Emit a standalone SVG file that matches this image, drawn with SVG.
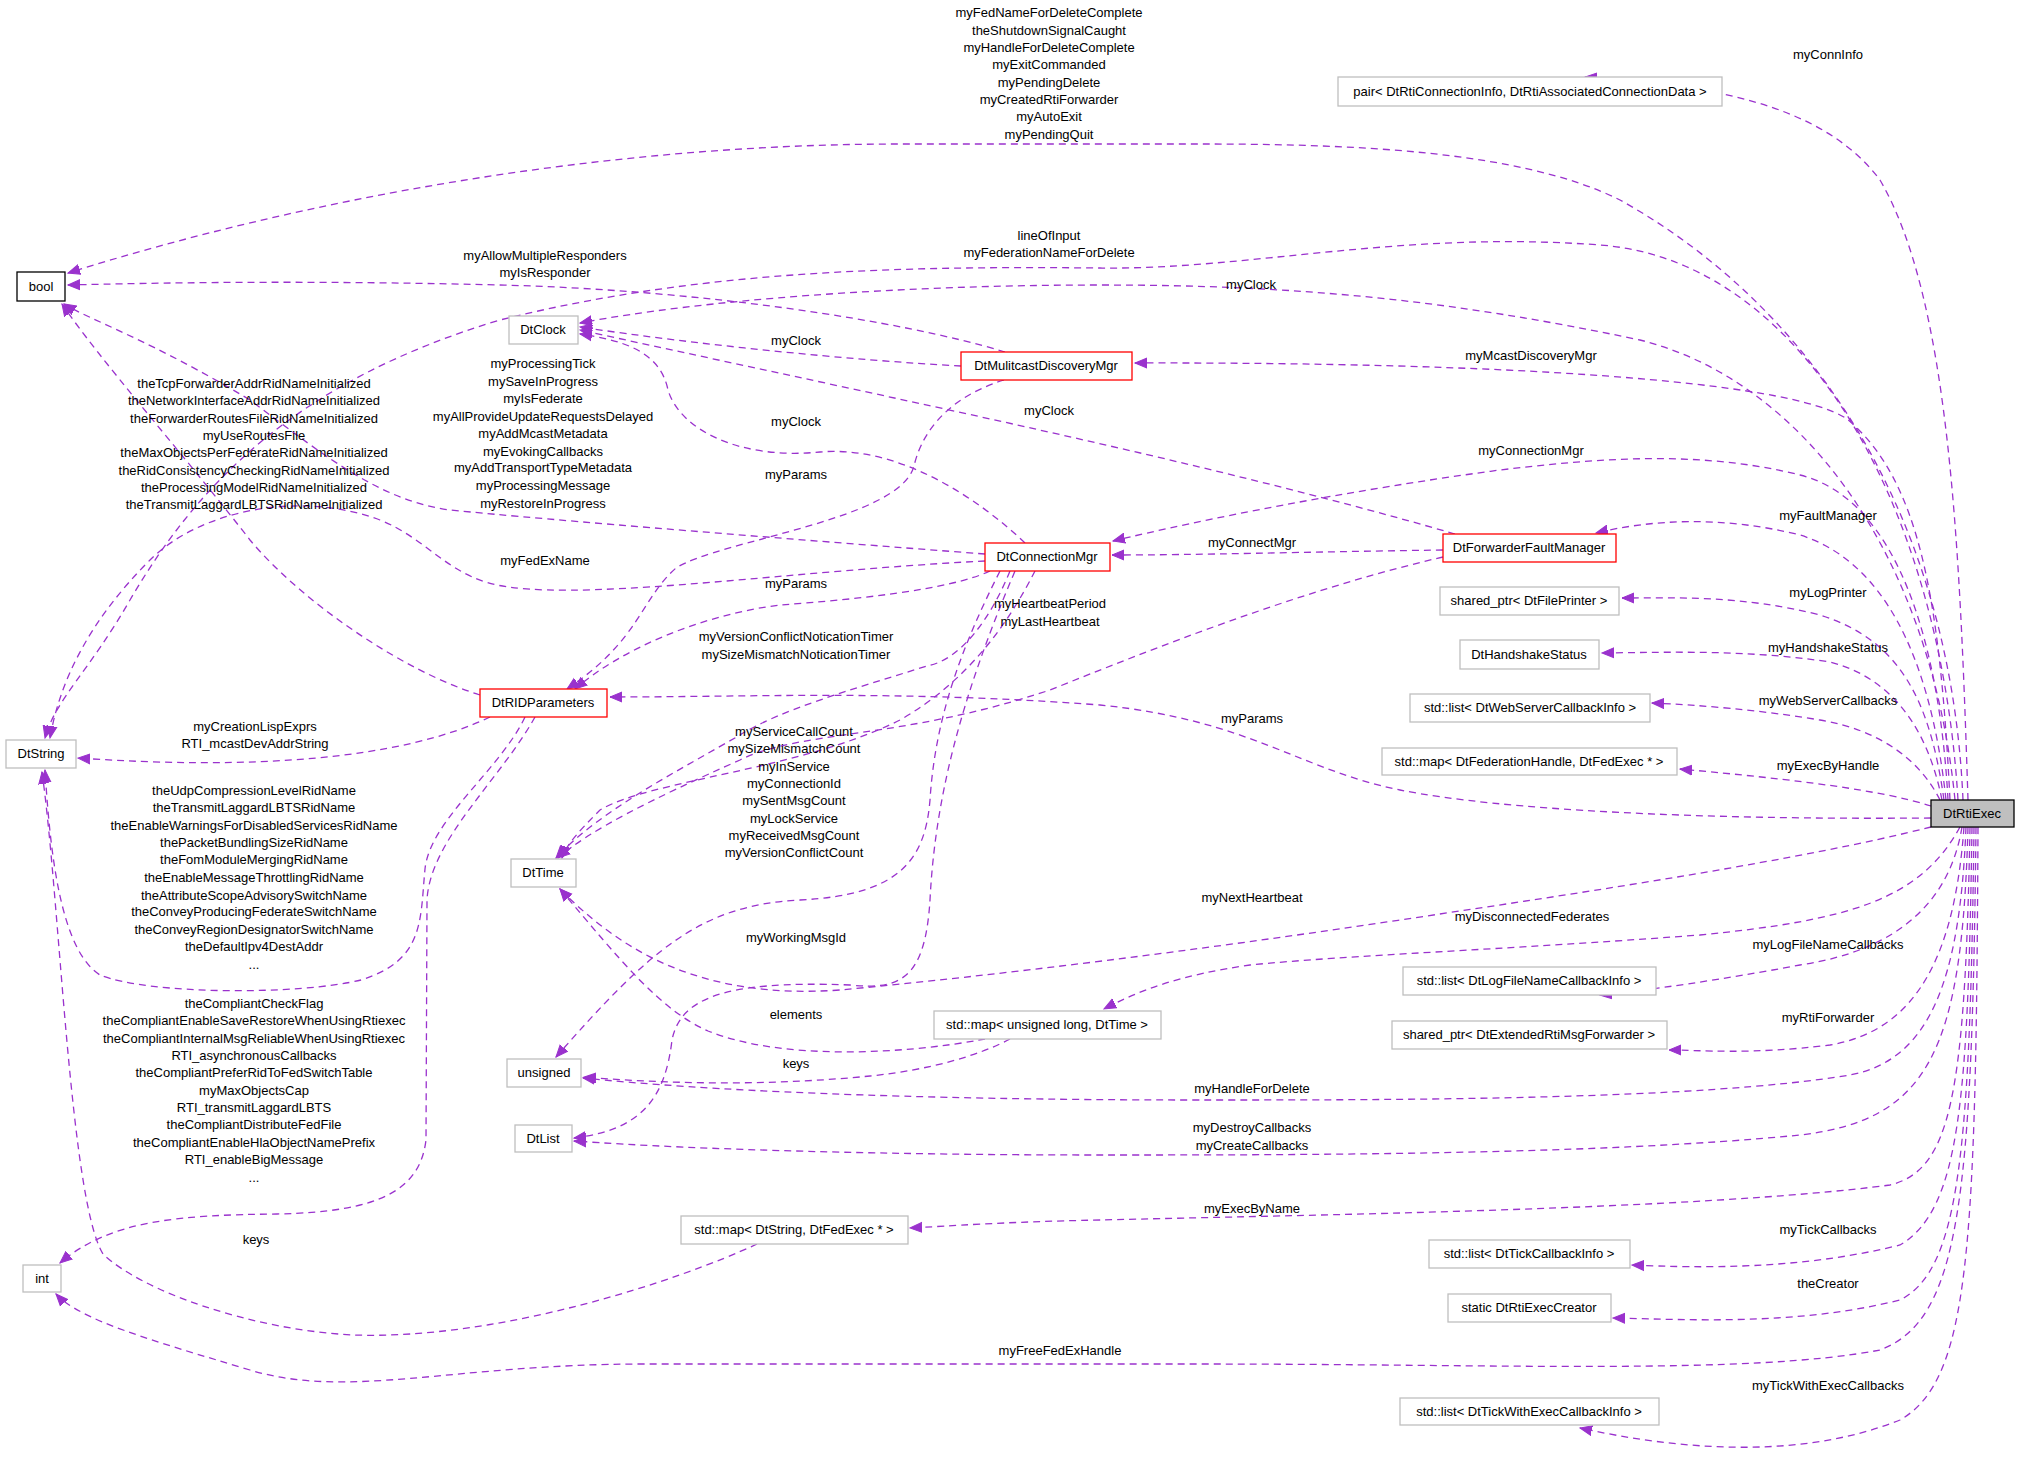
<svg xmlns="http://www.w3.org/2000/svg" width="2021" height="1457" viewBox="0 0 2021 1457">
<style>
text{font-family:"Liberation Sans",Arial,sans-serif;font-size:13px;fill:#000;text-anchor:middle}
.n rect{fill:#fff;stroke:#bfbfbf;stroke-width:1.3}
.r rect{stroke:#ff0000}
.k rect{stroke:#000}
.e path{fill:none;stroke:#9a32cd;stroke-width:1.3;stroke-dasharray:7,5;marker-end:url(#a)}
</style>
<defs><marker id="a" markerUnits="userSpaceOnUse" markerWidth="14" markerHeight="12" refX="12" refY="6" orient="auto"><path d="M0,1 L12,6 L0,11 Z" fill="#9a32cd" stroke="#9a32cd"/></marker></defs>
<rect width="2021" height="1457" fill="#fff"/>
<g class="e" id="edges">
<path d="M1968,800 C1960,550 1950,300 1880,180 C1820,100 1700,85 1585,77"/>
<path d="M1963,800 C1950,500 1800,300 1620,200 C1520,150 1350,144 1200,144 L900,144 C600,144 300,200 68,273"/>
<path d="M1958,800 C1940,500 1800,260 1600,245 C1400,230 1250,270 1100,268 C900,266 700,270 500,320 C300,380 200,480 130,600 C90,670 55,700 45,738"/>
<path d="M1955,800 C1930,550 1800,380 1640,340 C1450,300 1300,285 1100,285 C900,285 700,300 580,323"/>
<path d="M1950,800 C1940,600 1920,480 1847,419 C1790,380 1500,362 1135,363"/>
<path d="M1948,800 C1940,650 1900,500 1800,475 C1700,450 1600,458 1500,470 C1350,490 1200,520 1113,541"/>
<path d="M1946,800 C1930,650 1880,560 1800,535 C1720,515 1650,520 1596,533"/>
<path d="M1944,800 C1930,700 1900,640 1820,615 C1740,595 1680,598 1622,598"/>
<path d="M1942,800 C1930,740 1900,680 1830,662 C1750,650 1680,652 1602,653"/>
<path d="M1940,800 C1920,760 1880,730 1820,720 C1760,710 1700,705 1652,703"/>
<path d="M1931,806 C1880,790 1800,780 1680,769"/>
<path d="M1931,818 C1700,820 1500,810 1400,790 C1300,770 1250,720 1100,705 C900,690 750,697 610,697"/>
<path d="M1931,827 C1800,860 1600,890 1400,920 C1200,950 1000,975 840,990 C700,1000 620,950 560,889"/>
<path d="M1960,827 C1920,900 1850,920 1700,935 C1500,950 1350,955 1250,965 C1180,975 1140,990 1104,1009"/>
<path d="M1962,827 C1950,900 1900,950 1800,965 C1720,980 1650,990 1600,995"/>
<path d="M1964,827 C1955,950 1920,1030 1830,1045 C1750,1055 1700,1050 1669,1050"/>
<path d="M1966,827 C1960,980 1930,1060 1850,1075 C1700,1100 1400,1100 1200,1100 C900,1100 700,1090 583,1078"/>
<path d="M1968,827 C1962,1050 1930,1120 1800,1135 C1600,1155 1300,1155 1100,1155 C900,1155 700,1150 574,1141"/>
<path d="M1970,827 C1965,1100 1950,1170 1890,1185 C1700,1210 1300,1215 1100,1220 C1000,1222 950,1226 910,1228"/>
<path d="M1972,827 C1968,1100 1960,1210 1900,1245 C1800,1270 1700,1268 1632,1265"/>
<path d="M1974,827 C1970,1150 1960,1270 1900,1300 C1800,1325 1700,1320 1613,1318"/>
<path d="M1976,827 C1972,1200 1960,1320 1880,1350 C1750,1375 1500,1364 1200,1364 L645,1364 C450,1364 350,1400 250,1370 C150,1340 80,1320 56,1294"/>
<path d="M1978,827 C1976,1250 1970,1380 1900,1420 C1800,1460 1680,1450 1580,1428"/>
<path d="M1005,352 C900,320 700,290 500,285 C300,280 150,283 68,285"/>
<path d="M961,366 C850,360 700,345 580,327"/>
<path d="M1004,380 C940,400 920,440 914,466 C900,520 720,540 676,568 C640,600 640,640 567,689"/>
<path d="M1025,543 C980,500 900,445 820,452 C740,460 680,430 668,390 C660,350 620,340 580,334"/>
<path d="M985,554 C800,540 550,520 450,510 C380,500 330,460 250,400 C150,340 90,320 64,304"/>
<path d="M985,561 C800,570 600,600 509,587 C450,580 430,540 380,520 C300,490 200,510 150,560 C90,620 60,680 50,738"/>
<path d="M990,571 C950,590 850,600 780,605 C700,615 620,650 575,689"/>
<path d="M1010,571 C990,620 960,660 927,666 C850,690 780,710 740,735 C680,770 600,810 556,858"/>
<path d="M1035,571 C1010,620 970,680 900,720 C800,770 650,780 600,810 C580,830 566,845 562,858"/>
<path d="M1000,571 C960,650 935,720 930,800 C925,860 900,895 800,900 C700,905 650,950 556,1057"/>
<path d="M1015,571 C960,700 935,800 930,900 C925,980 900,990 850,985 C720,980 680,1000 672,1040 C665,1100 640,1130 574,1138"/>
<path d="M1443,557 C1300,590 1150,650 1050,690 C900,740 800,730 740,760 C650,800 590,830 558,858"/>
<path d="M1455,534 C1200,460 900,400 580,330"/>
<path d="M1443,550 C1300,552 1200,555 1112,555"/>
<path d="M480,695 C400,670 300,600 250,540 C180,450 100,360 62,304"/>
<path d="M490,717 C400,760 250,770 78,758"/>
<path d="M525,717 C500,770 430,820 425,869 C420,920 425,960 361,980 C300,995 150,995 100,975 C60,950 50,850 45,770"/>
<path d="M535,717 C500,780 430,840 427,900 L426,1140 C420,1190 380,1212 277,1214 C180,1215 110,1220 60,1263"/>
<path d="M757,1244 C680,1280 500,1340 354,1335 C250,1330 140,1290 103,1254 C70,1200 60,900 42,772"/>
<path d="M985,1039 C900,1055 780,1060 708,1031 C660,1010 620,960 560,889"/>
<path d="M1010,1039 C980,1055 930,1070 870,1076 C780,1085 680,1085 584,1077"/>
</g>
<g id="labels">
<text x="1049" y="17">myFedNameForDeleteComplete</text><text x="1049" y="35">theShutdownSignalCaught</text><text x="1049" y="52">myHandleForDeleteComplete</text><text x="1049" y="69">myExitCommanded</text><text x="1049" y="87">myPendingDelete</text><text x="1049" y="104">myCreatedRtiForwarder</text><text x="1049" y="121">myAutoExit</text><text x="1049" y="139">myPendingQuit</text>
<text x="1828" y="59">myConnInfo</text>
<text x="1049" y="240">lineOfInput</text><text x="1049" y="257">myFederationNameForDelete</text>
<text x="1251" y="289">myClock</text>
<text x="545" y="260">myAllowMultipleResponders</text><text x="545" y="277">myIsResponder</text>
<text x="796" y="345">myClock</text>
<text x="1531" y="360">myMcastDiscoveryMgr</text>
<text x="543" y="368">myProcessingTick</text><text x="543" y="386">mySaveInProgress</text><text x="543" y="403">myIsFederate</text><text x="543" y="421">myAllProvideUpdateRequestsDelayed</text><text x="543" y="438">myAddMcastMetadata</text><text x="543" y="456">myEvokingCallbacks</text><text x="543" y="472">myAddTransportTypeMetadata</text><text x="543" y="490">myProcessingMessage</text><text x="543" y="508">myRestoreInProgress</text>
<text x="254" y="388">theTcpForwarderAddrRidNameInitialized</text><text x="254" y="405">theNetworkInterfaceAddrRidNameInitialized</text><text x="254" y="423">theForwarderRoutesFileRidNameInitialized</text><text x="254" y="440">myUseRoutesFile</text><text x="254" y="457">theMaxObjectsPerFederateRidNameInitialized</text><text x="254" y="475">theRidConsistencyCheckingRidNameInitialized</text><text x="254" y="492">theProcessingModelRidNameInitialized</text><text x="254" y="509">theTransmitLaggardLBTSRidNameInitialized</text>
<text x="1049" y="415">myClock</text>
<text x="796" y="426">myClock</text>
<text x="796" y="479">myParams</text>
<text x="1531" y="455">myConnectionMgr</text>
<text x="1828" y="520">myFaultManager</text>
<text x="1252" y="547">myConnectMgr</text>
<text x="545" y="565">myFedExName</text>
<text x="796" y="588">myParams</text>
<text x="1828" y="597">myLogPrinter</text>
<text x="1050" y="608">myHeartbeatPeriod</text><text x="1050" y="626">myLastHeartbeat</text>
<text x="796" y="641">myVersionConflictNoticationTimer</text><text x="796" y="659">mySizeMismatchNoticationTimer</text>
<text x="1828" y="652">myHandshakeStatus</text>
<text x="1828" y="705">myWebServerCallbacks</text>
<text x="1252" y="723">myParams</text>
<text x="255" y="731">myCreationLispExprs</text><text x="255" y="748">RTI_mcastDevAddrString</text>
<text x="794" y="736">myServiceCallCount</text><text x="794" y="753">mySizeMismatchCount</text><text x="794" y="771">myInService</text><text x="794" y="788">myConnectionId</text><text x="794" y="805">mySentMsgCount</text><text x="794" y="823">myLockService</text><text x="794" y="840">myReceivedMsgCount</text><text x="794" y="857">myVersionConflictCount</text>
<text x="1828" y="770">myExecByHandle</text>
<text x="254" y="795">theUdpCompressionLevelRidName</text><text x="254" y="812">theTransmitLaggardLBTSRidName</text><text x="254" y="830">theEnableWarningsForDisabledServicesRidName</text><text x="254" y="847">thePacketBundlingSizeRidName</text><text x="254" y="864">theFomModuleMergingRidName</text><text x="254" y="882">theEnableMessageThrottlingRidName</text><text x="254" y="900">theAttributeScopeAdvisorySwitchName</text><text x="254" y="916">theConveyProducingFederateSwitchName</text><text x="254" y="934">theConveyRegionDesignatorSwitchName</text><text x="254" y="951">theDefaultIpv4DestAddr</text><text x="254" y="969">...</text>
<text x="1252" y="902">myNextHeartbeat</text>
<text x="1532" y="921">myDisconnectedFederates</text>
<text x="796" y="942">myWorkingMsgId</text>
<text x="1828" y="949">myLogFileNameCallbacks</text>
<text x="254" y="1008">theCompliantCheckFlag</text><text x="254" y="1025">theCompliantEnableSaveRestoreWhenUsingRtiexec</text><text x="254" y="1043">theCompliantInternalMsgReliableWhenUsingRtiexec</text><text x="254" y="1060">RTI_asynchronousCallbacks</text><text x="254" y="1077">theCompliantPreferRidToFedSwitchTable</text><text x="254" y="1095">myMaxObjectsCap</text><text x="254" y="1112">RTI_transmitLaggardLBTS</text><text x="254" y="1129">theCompliantDistributeFedFile</text><text x="254" y="1147">theCompliantEnableHlaObjectNamePrefix</text><text x="254" y="1164">RTI_enableBigMessage</text><text x="254" y="1182">...</text>
<text x="796" y="1019">elements</text>
<text x="1828" y="1022">myRtiForwarder</text>
<text x="796" y="1068">keys</text>
<text x="1252" y="1093">myHandleForDelete</text>
<text x="1252" y="1132">myDestroyCallbacks</text><text x="1252" y="1150">myCreateCallbacks</text>
<text x="1252" y="1213">myExecByName</text>
<text x="1828" y="1234">myTickCallbacks</text>
<text x="256" y="1244">keys</text>
<text x="1828" y="1288">theCreator</text>
<text x="1060" y="1355">myFreeFedExHandle</text>
<text x="1828" y="1390">myTickWithExecCallbacks</text>
</g>
<g class="n k" id="bool"><rect x="17" y="272" width="48" height="29"/><text x="41" y="291">bool</text></g>
<g class="n" id="DtClock"><rect x="509" y="316" width="69" height="28"/><text x="543" y="334">DtClock</text></g>
<g class="n r" id="DtMulitcastDiscoveryMgr"><rect x="961" y="352" width="171" height="28"/><text x="1046" y="370">DtMulitcastDiscoveryMgr</text></g>
<g class="n r" id="DtConnectionMgr"><rect x="985" y="543" width="125" height="28"/><text x="1047" y="561">DtConnectionMgr</text></g>
<g class="n r" id="DtForwarderFaultManager"><rect x="1443" y="534" width="173" height="28"/><text x="1529" y="552">DtForwarderFaultManager</text></g>
<g class="n r" id="DtRIDParameters"><rect x="480" y="689" width="127" height="28"/><text x="543" y="707">DtRIDParameters</text></g>
<g class="n" id="DtString"><rect x="6" y="740" width="70" height="28"/><text x="41" y="758">DtString</text></g>
<g class="n" id="DtTime"><rect x="511" y="859" width="65" height="28"/><text x="543" y="877">DtTime</text></g>
<g class="n" id="unsigned"><rect x="507" y="1059" width="74" height="28"/><text x="544" y="1077">unsigned</text></g>
<g class="n" id="DtList"><rect x="515" y="1125" width="57" height="27"/><text x="543" y="1143">DtList</text></g>
<g class="n" id="int"><rect x="23" y="1265" width="38" height="27"/><text x="42" y="1283">int</text></g>
<g class="n" id="mapString"><rect x="681" y="1216" width="227" height="28"/><text x="794" y="1234">std::map&lt; DtString, DtFedExec * &gt;</text></g>
<g class="n" id="mapUnsigned"><rect x="934" y="1011" width="227" height="28"/><text x="1047" y="1029">std::map&lt; unsigned long, DtTime &gt;</text></g>
<g class="n" id="pair"><rect x="1338" y="77" width="384" height="29"/><text x="1530" y="96">pair&lt; DtRtiConnectionInfo, DtRtiAssociatedConnectionData &gt;</text></g>
<g class="n" id="filePrinter"><rect x="1440" y="587" width="179" height="28"/><text x="1529" y="605">shared_ptr&lt; DtFilePrinter &gt;</text></g>
<g class="n" id="handshake"><rect x="1460" y="640" width="139" height="29"/><text x="1529" y="659">DtHandshakeStatus</text></g>
<g class="n" id="webServer"><rect x="1410" y="694" width="240" height="28"/><text x="1530" y="712">std::list&lt; DtWebServerCallbackInfo &gt;</text></g>
<g class="n" id="mapFedHandle"><rect x="1382" y="748" width="295" height="27"/><text x="1529" y="766">std::map&lt; DtFederationHandle, DtFedExec * &gt;</text></g>
<g class="n k" id="DtRtiExec"><rect x="1931" y="800" width="83" height="27" style="fill:#bfbfbf"/><text x="1972" y="818">DtRtiExec</text></g>
<g class="n" id="logFile"><rect x="1403" y="967" width="253" height="28"/><text x="1529" y="985">std::list&lt; DtLogFileNameCallbackInfo &gt;</text></g>
<g class="n" id="extended"><rect x="1392" y="1021" width="275" height="28"/><text x="1529" y="1039">shared_ptr&lt; DtExtendedRtiMsgForwarder &gt;</text></g>
<g class="n" id="tick"><rect x="1429" y="1240" width="201" height="28"/><text x="1529" y="1258">std::list&lt; DtTickCallbackInfo &gt;</text></g>
<g class="n" id="creator"><rect x="1448" y="1294" width="163" height="28"/><text x="1529" y="1312">static DtRtiExecCreator</text></g>
<g class="n" id="tickWithExec"><rect x="1400" y="1398" width="259" height="27"/><text x="1529" y="1416">std::list&lt; DtTickWithExecCallbackInfo &gt;</text></g>
</svg>
